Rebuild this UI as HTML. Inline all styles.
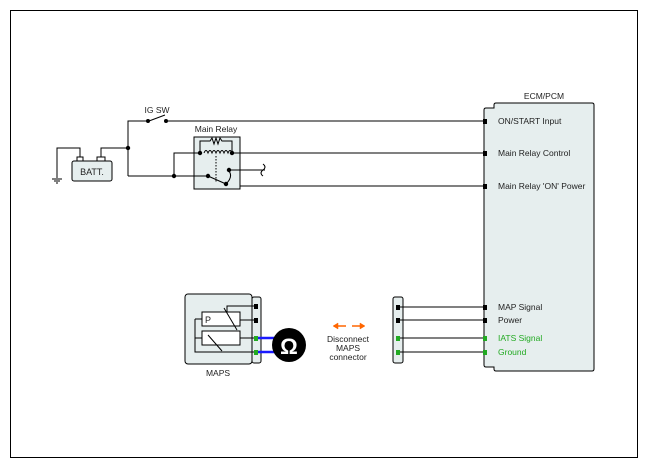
<!DOCTYPE html>
<html><head><style>body{margin:0;background:#fff}svg{display:block}text{font-family:"Liberation Sans",sans-serif;font-size:8.5px;fill:#222}</style></head><body>
<svg width="648" height="468" viewBox="0 0 648 468">
<rect x="10.5" y="10.5" width="627" height="447" fill="#fff" stroke="#000"/>
<g stroke="#000" fill="none" stroke-width="1">
<!-- ECM -->
<path d="M484 110 q0-2 2-2 h8 v-3 q0-2 2-2 h96 q2 0 2 2 v264 q0 2-2 2 h-96 q-2 0-2-2 v-2 h-8 q-2 0-2-2z" fill="#e6eeee"/>
<!-- battery -->
<rect x="72" y="161" width="40" height="20" rx="2" fill="#e6eeee"/>
<rect x="77" y="157" width="6" height="4" fill="#fff"/><rect x="97" y="157" width="8" height="4" fill="#fff"/>
<path d="M80 157 v-9 h-23 v30 M52 179 h10 M54 181 h6 M56 183 h2 M101 157 v-9 h27"/>
<!-- IG SW -->
<path d="M128 176 v-55 h20 M149 121 l16 -6 M166 121 h319"/>
<!-- relay -->
<rect x="194" y="137" width="46" height="52" fill="#e6eeee"/>
<path d="M174 176 v-23 h26 M128 176 h80 M200 153 v-12 h10 l2-3 2 6 2-6 2 6 2-6 2 3 h10 v12 M232 153 h253 M204 153 q2-5 4 0 q2-5 4 0 q2-5 4 0 q2-5 4 0 q2-5 4 0 q2-5 4 0 q2-5 4 0"/>
<path d="M216 156 v26" stroke-dasharray="1.5,1.5"/>
<path d="M208 176 l18 8 M228 170 q6 6 -2 14 M228 170 h37 M263 164 q4 3 0 6 q-4 3 0 6 M240 170 v16 h245"/>
<!-- MAPS -->
<rect x="185" y="294" width="67" height="70" rx="3" fill="#e6eeee"/>
<rect x="252" y="297" width="9" height="66" rx="2" fill="#e6eeee"/>
<rect x="202" y="312" width="38" height="14" fill="#fff"/><rect x="202" y="331" width="38" height="14" fill="#fff"/>
<path d="M254 306 h-27 v6 M224 308 l13 22 M208 335 l14 16 M254 320 h-14 M254 338 h-14 M195 319 h7 v0 M195 319 v19 h7 M195 338 v14 h59 M240 338 h14"/>
<!-- right connector -->
<rect x="393" y="297" width="10" height="66" rx="2" fill="#e6eeee"/>
<path d="M400 307 h85 M400 320 h85 M400 338 h85 M400 352 h85"/>
</g>
<g fill="#000">
<circle cx="128" cy="148" r="2.2"/><circle cx="174" cy="176" r="2.2"/><circle cx="148" cy="121" r="2"/><circle cx="166" cy="121" r="2"/>
<circle cx="200" cy="153" r="2.2"/><circle cx="232" cy="153" r="2.2"/><circle cx="208" cy="176" r="2.2"/><circle cx="226" cy="184" r="2.2"/><circle cx="229" cy="170" r="2.2"/>
<rect x="483" y="119" width="4" height="5"/><rect x="483" y="151" width="4" height="5"/><rect x="483" y="184" width="4" height="5"/>
<rect x="483" y="305" width="4" height="5"/><rect x="483" y="318" width="4" height="5"/>
<rect x="254" y="304" width="4" height="5"/><rect x="254" y="318" width="4" height="5"/>
<rect x="396" y="305" width="4" height="5"/><rect x="396" y="318" width="4" height="5"/>
</g>
<g fill="#2a2">
<rect x="483" y="336" width="4" height="5"/><rect x="483" y="350" width="4" height="5"/>
<rect x="254" y="336" width="4" height="5"/><rect x="254" y="350" width="4" height="5"/>
<rect x="396" y="336" width="4" height="5"/><rect x="396" y="350" width="4" height="5"/>
</g>
<path d="M258 338 h20 M258 352 h20" stroke="#1a1aff" stroke-width="2.5"/>
<circle cx="289" cy="345" r="17" fill="#000"/>
<text x="289" y="354" text-anchor="middle" style="font-size:22px;font-weight:bold;fill:#fff">Ω</text>
<g stroke="#f60" stroke-width="1.5" fill="#f60">
<path d="M336 326 h10 M352 326 h10"/><path d="M333 326 l5-3 v6z M365 326 l-5-3 v6z" stroke-width="0.5"/>
</g>
<text x="348" y="342" text-anchor="middle">Disconnect</text>
<text x="348" y="351" text-anchor="middle">MAPS</text>
<text x="348" y="360" text-anchor="middle">connector</text>
<text x="218" y="376" text-anchor="middle">MAPS</text>
<text x="205" y="323" style="font-size:9px">P</text>
<text x="92" y="175" text-anchor="middle" style="font-size:9px">BATT.</text>
<text x="157" y="113" text-anchor="middle">IG SW</text>
<text x="216" y="132" text-anchor="middle">Main Relay</text>
<text x="544" y="99" text-anchor="middle">ECM/PCM</text>
<text x="498" y="124">ON/START Input</text>
<text x="498" y="156">Main Relay Control</text>
<text x="498" y="189">Main Relay 'ON' Power</text>
<text x="498" y="310">MAP Signal</text>
<text x="498" y="323">Power</text>
<text x="498" y="341" style="fill:#2a2">IATS Signal</text>
<text x="498" y="355" style="fill:#2a2">Ground</text>
</svg>
</body></html>
